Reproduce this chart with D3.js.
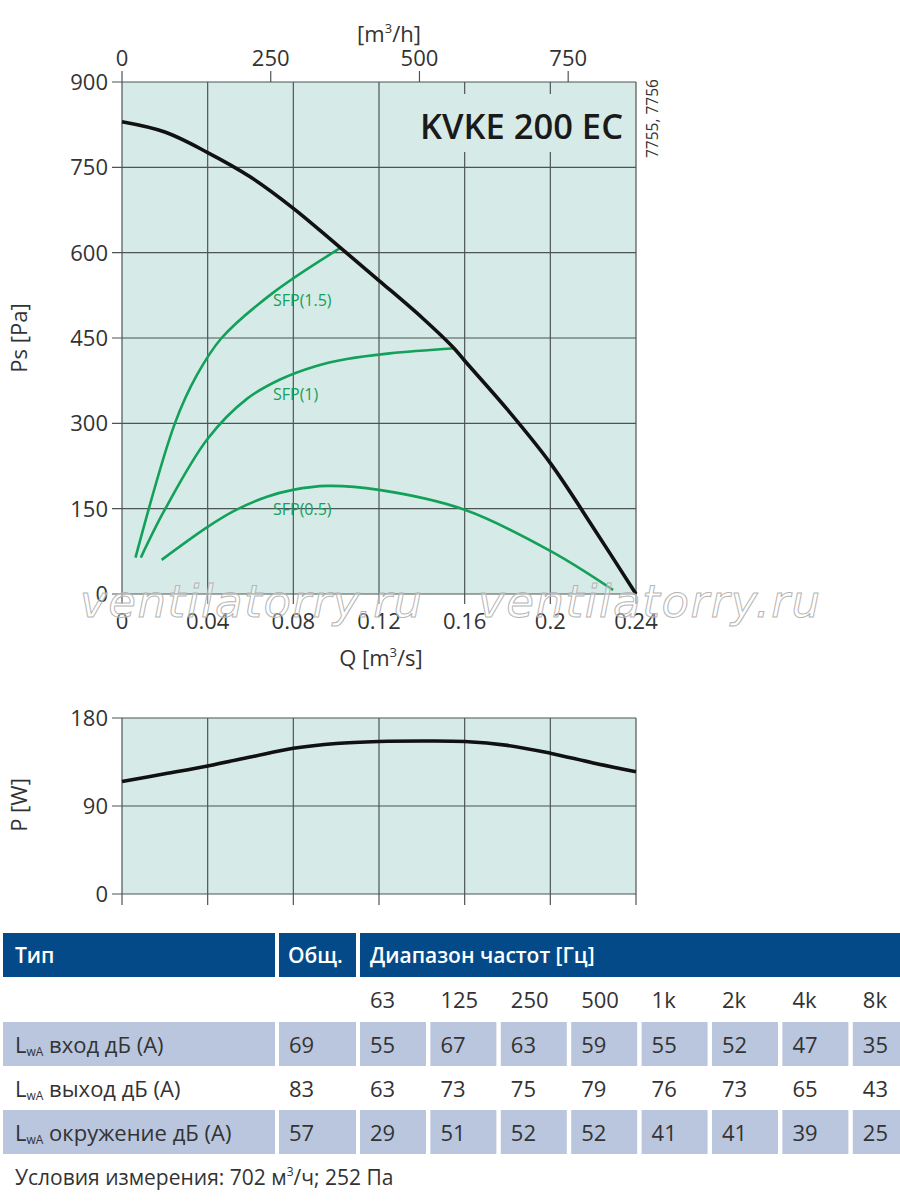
<!DOCTYPE html>
<html><head><meta charset="utf-8">
<script src="https://cdn.jsdelivr.net/npm/d3@7"></script>
<style>
html,body{margin:0;padding:0;background:#fff;}
svg{display:block;font-family:"Open Sans",sans-serif;}
</style></head>
<body><svg id="c" width="900" height="1203"></svg>
<script>
// ---- data ----
const qTicks = [0, 0.04, 0.08, 0.12, 0.16, 0.2, 0.24];
const qTickLabels = ["0", "0.04", "0.08", "0.12", "0.16", "0.2", "0.24"];
const psTicks = [0, 150, 300, 450, 600, 750, 900];
const flowTicks = [0, 250, 500, 750];          // m3/h
const powerTicks = [0, 90, 180];

const fanCurve = [[0,830],[0.02,812],[0.04,776],[0.06,733],[0.08,678],[0.1,615],[0.12,551],[0.14,486],[0.155,432],[0.16,410],[0.18,324],[0.2,230],[0.22,117],[0.24,0]];
const sfp15 = [[0.0063,64],[0.0247,300],[0.035,385],[0.0465,450],[0.07,528],[0.1018,608]];
const sfp1  = [[0.0088,64],[0.0201,149],[0.04,273],[0.0583,343],[0.0738,377],[0.09,400],[0.105,413],[0.125,423],[0.1554,432]];
const sfp05 = [[0.0185,60],[0.04,118],[0.0528,147],[0.0677,171],[0.0798,183],[0.0957,190],[0.12,183],[0.16,148],[0.2008,74],[0.2293,7]];
const sfpLabels = ["SFP(1.5)", "SFP(1)", "SFP(0.5)"];
const sfpLabelPos = [[0.0705,517],[0.0705,352],[0.0705,150]];

const powerCurve = [[0,115],[0.02,123],[0.04,131],[0.06,140],[0.08,149],[0.1,154],[0.12,156],[0.14,156.5],[0.16,156],[0.18,152],[0.2,144],[0.22,134],[0.24,125]];

const bands = ["63","125","250","500","1k","2k","4k","8k"];
const rowLabels = ["вход дБ (A)", "выход дБ (A)", "окружение дБ (A)"];
const totals = [69, 83, 57];
const inlet = [55,67,63,59,55,52,47,35];
const outlet = [63,73,75,79,76,73,65,43];
const surround = [29,51,52,52,41,41,39,25];
const levels = [inlet, outlet, surround];

// ---- setup ----
const svg = d3.select("#c");
const green = "#12a05a", gridC = "#4d5553", bgC = "#d6ebe7", txt = "#333";
const X0 = 122, X1 = 636;
const x = d3.scaleLinear().domain([0, 0.24]).range([X0, X1]);
const y = d3.scaleLinear().domain([0, 900]).range([594, 82]);
const xh = d3.scaleLinear().domain([0, 0.24*3600]).range([X0, X1]);
const yp = d3.scaleLinear().domain([0, 180]).range([894, 718]);

// ---- top chart ----
svg.append("rect").attr("x",X0).attr("y",y(900)).attr("width",X1-X0).attr("height",y(0)-y(900)).attr("fill",bgC);
const g1 = svg.append("g");
g1.selectAll(".vg").data(qTicks).join("line")
  .attr("x1",d=>x(d)).attr("x2",d=>x(d)).attr("y1",y(900)).attr("y2",y(0)+10)
  .attr("stroke",gridC).attr("stroke-width",1.2);
g1.selectAll(".hg").data(psTicks).join("line")
  .attr("x1",X0-10).attr("x2",X1).attr("y1",d=>y(d)).attr("y2",d=>y(d))
  .attr("stroke",gridC).attr("stroke-width",1.2);
svg.append("rect").attr("x",412).attr("y",94).attr("width",X1-413).attr("height",58).attr("fill",bgC);
svg.append("text").attr("x",623).attr("y",139).attr("text-anchor","end")
  .attr("font-size",34.5).attr("font-weight",600).attr("fill","#1a1a1a").text("KVKE 200 EC");
svg.append("text").attr("transform","translate(658,158) rotate(-90)")
  .attr("font-size",15.5).attr("fill",txt).text("7755, 7756");

svg.selectAll(".yl").data(psTicks).join("text")
  .attr("x",108).attr("y",d=>y(d)+8).attr("text-anchor","end")
  .attr("font-size",22).attr("fill",txt).text(d=>d);
svg.selectAll(".xl").data(qTicks).join("text")
  .attr("x",d=>x(d)).attr("y",629).attr("text-anchor","middle")
  .attr("font-size",22).attr("fill",txt).text((d,i)=>qTickLabels[i]);
svg.selectAll(".ft").data(flowTicks).join("line")
  .attr("x1",d=>xh(d)).attr("x2",d=>xh(d)).attr("y1",y(900)-11).attr("y2",y(900))
  .attr("stroke",gridC).attr("stroke-width",1.2);
svg.selectAll(".fl").data(flowTicks).join("text")
  .attr("x",d=>xh(d)).attr("y",66).attr("text-anchor","middle")
  .attr("font-size",22).attr("fill",txt).text(d=>d);
const th = svg.append("text").attr("x",389).attr("y",42).attr("text-anchor","middle").attr("font-size",22).attr("fill",txt);
th.append("tspan").text("[m");
th.append("tspan").attr("font-size",13).attr("dy",-9).text("3");
th.append("tspan").attr("dy",9).text("/h]");
const tq = svg.append("text").attr("x",381).attr("y",666).attr("text-anchor","middle").attr("font-size",22).attr("fill",txt);
tq.append("tspan").text("Q [m");
tq.append("tspan").attr("font-size",13).attr("dy",-9).text("3");
tq.append("tspan").attr("dy",9).text("/s]");
svg.append("text").attr("transform","translate(27,338) rotate(-90)").attr("text-anchor","middle")
  .attr("font-size",22).attr("fill",txt).text("Ps [Pa]");

// curves
const line = d3.line().x(d=>x(d[0])).y(d=>y(d[1])).curve(d3.curveCatmullRom.alpha(0.5));
[sfp15, sfp1, sfp05].forEach(s=>{
  svg.append("path").attr("d",line(s)).attr("fill","none").attr("stroke",green).attr("stroke-width",2.6);
});
svg.append("path").attr("d",line(fanCurve)).attr("fill","none").attr("stroke","#111").attr("stroke-width",3.6);
svg.selectAll(".sl").data(sfpLabels).join("text")
  .attr("x",(d,i)=>x(sfpLabelPos[i][0])).attr("y",(d,i)=>y(sfpLabelPos[i][1])+6)
  .attr("font-size",16).attr("fill",green).text(d=>d);

// watermark
["ventilatorry.ru","ventilatorry.ru"].forEach((w,i)=>{
  svg.append("text").attr("x",i?478:80).attr("y",617).attr("font-size",45).attr("font-style","italic")
    .attr("font-family","'DejaVu Sans',sans-serif").attr("textLength",342)
    .attr("fill","rgba(255,255,255,0.35)").attr("stroke","#b5b5b5").attr("stroke-width",1).text(w);
});

// ---- bottom chart ----
svg.append("rect").attr("x",X0).attr("y",yp(180)).attr("width",X1-X0).attr("height",yp(0)-yp(180)).attr("fill",bgC);
svg.selectAll(".pvg").data(qTicks).join("line")
  .attr("x1",d=>x(d)).attr("x2",d=>x(d)).attr("y1",yp(180)).attr("y2",yp(0)+11)
  .attr("stroke",gridC).attr("stroke-width",1.2);
svg.selectAll(".phg").data(powerTicks).join("line")
  .attr("x1",X0-10).attr("x2",X1).attr("y1",d=>yp(d)).attr("y2",d=>yp(d))
  .attr("stroke",gridC).attr("stroke-width",1.2);
svg.selectAll(".pyl").data(powerTicks).join("text")
  .attr("x",108).attr("y",d=>yp(d)+8).attr("text-anchor","end")
  .attr("font-size",22).attr("fill",txt).text(d=>d);
svg.append("text").attr("transform","translate(27,805) rotate(-90)").attr("text-anchor","middle")
  .attr("font-size",22).attr("fill",txt).text("P [W]");
const pline = d3.line().x(d=>x(d[0])).y(d=>yp(d[1])).curve(d3.curveCatmullRom.alpha(0.5));
svg.append("path").attr("d",pline(powerCurve)).attr("fill","none").attr("stroke","#111").attr("stroke-width",3.6);

// ---- table ----
const hdr = "#044a89", shade = "#b9c6de";
const T = svg.append("g");
const rowY = [933, 977, 1022, 1066, 1110], rowH = 44;
const colX = bands.map((b,i)=>360 + i*70.4);
T.append("rect").attr("x",3).attr("y",rowY[0]).attr("width",272).attr("height",rowH).attr("fill",hdr);
T.append("rect").attr("x",279).attr("y",rowY[0]).attr("width",77).attr("height",rowH).attr("fill",hdr);
T.append("rect").attr("x",360).attr("y",rowY[0]).attr("width",540).attr("height",rowH).attr("fill",hdr);
T.append("text").attr("x",15).attr("y",rowY[0]+30).attr("font-size",21).attr("font-weight",600).attr("fill","#fff").text("Тип");
T.append("text").attr("x",288).attr("y",rowY[0]+30).attr("font-size",21).attr("font-weight",600).attr("fill","#fff").text("Общ.");
T.append("text").attr("x",370).attr("y",rowY[0]+30).attr("font-size",21).attr("font-weight",600).attr("fill","#fff").text("Диапазон частот [Гц]");
T.selectAll(".bd").data(bands).join("text")
  .attr("x",(d,i)=>colX[i]+10).attr("y",rowY[1]+31).attr("font-size",22).attr("fill",txt).text(d=>d);
rowLabels.forEach((lab,r)=>{
  const yy = rowY[r+2];
  if (r !== 1) {
    T.append("rect").attr("x",3).attr("y",yy).attr("width",272).attr("height",rowH).attr("fill",shade);
    T.append("rect").attr("x",279).attr("y",yy).attr("width",77).attr("height",rowH).attr("fill",shade);
    T.selectAll(null).data(bands).join("rect")
      .attr("x",(d,i)=>colX[i]).attr("y",yy).attr("width",(d,i)=>Math.min(66, 900-colX[i])).attr("height",rowH).attr("fill",shade);
  }
  const t = T.append("text").attr("x",15).attr("y",yy+31).attr("font-size",22).attr("fill",txt);
  t.append("tspan").text("L");
  t.append("tspan").attr("font-size",12).attr("dy",3).text("wA");
  t.append("tspan").attr("dy",-3).text(" " + lab);
  T.append("text").attr("x",289).attr("y",yy+31).attr("font-size",22).attr("fill",txt).text(totals[r]);
  T.selectAll(null).data(levels[r]).join("text")
    .attr("x",(d,i)=>colX[i]+10).attr("y",yy+31).attr("font-size",22).attr("fill",txt).text(d=>d);
});
const ft = T.append("text").attr("x",15).attr("y",1185).attr("font-size",21).attr("fill",txt);
ft.append("tspan").text("Условия измерения: 702 м");
ft.append("tspan").attr("font-size",12).attr("dy",-9).text("3");
ft.append("tspan").attr("dy",9).text("/ч; 252 Па");
</script></body></html>
